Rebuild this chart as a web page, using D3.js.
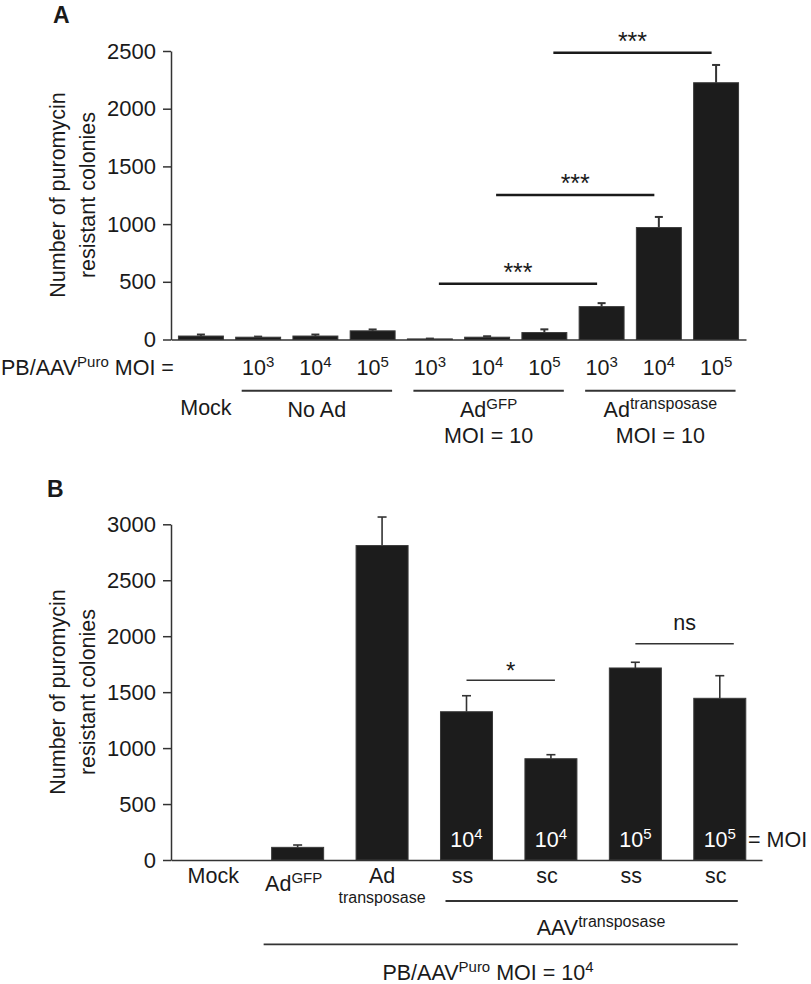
<!DOCTYPE html>
<html><head><meta charset="utf-8">
<script src="https://cdn.jsdelivr.net/npm/d3@7"></script>
<style>
html,body{margin:0;padding:0;background:#fff;}
svg{display:block;font-family:"Liberation Sans",Arial,Helvetica,sans-serif;}
</style></head><body>
<svg id="chart" width="811" height="984"></svg>
<script>
// ---------- Panel A data ----------
const categoriesA = ["Mock","No Ad 10^3","No Ad 10^4","No Ad 10^5","AdGFP 10^3","AdGFP 10^4","AdGFP 10^5","Adtransposase 10^3","Adtransposase 10^4","Adtransposase 10^5"];
const moiExponentA = [null,"3","4","5","3","4","5","3","4","5"];
const valuesA = [30,20,30,75,5,20,60,285,970,2225];
const errorsA = [13,5,13,12,3,8,28,30,92,154];
const ticksA = [0,500,1000,1500,2000,2500];
const groupsA = [
  {label:"No Ad", second:null, first:1, last:3},
  {label:"Ad^{GFP}", second:"MOI = 10", first:4, last:6},
  {label:"Ad^{transposase}", second:"MOI = 10", first:7, last:9}
];
const significanceA = [
  {from:4, to:7, level:483, label:"***"},
  {from:5, to:8, level:1252, label:"***"},
  {from:6, to:9, level:2485, label:"***"}
];

// ---------- Panel B data ----------
const categoriesB = ["Mock","AdGFP","Adtransposase","AAV ss 10^4","AAV sc 10^4","AAV ss 10^5","AAV sc 10^5"];
const labelsB = ["Mock","Ad^{GFP}","Ad","ss","sc","ss","sc"];
const moiExponentB = [null,null,null,"4","4","5","5"];
const valuesB = [0,113,2810,1325,905,1716,1445];
const errorsB = [0,21,255,143,36,51,202];
const ticksB = [0,500,1000,1500,2000,2500,3000];
const significanceB = [
  {from:3, to:4, level:1606, label:"*"},
  {from:5, to:6, level:1933, label:"ns"}
];

const svg = d3.select("#chart");
const INK = "#1a1a1a", LINE = "#333";
const FS = 21.5;

function rich(g, x, y, str, opts={}) {
  const t = g.append("text").attr("x", x).attr("y", y)
    .attr("text-anchor", opts.anchor || "middle")
    .attr("font-size", opts.size || FS)
    .attr("fill", opts.fill || INK);
  const re = /\^\{([^}]*)\}/g;
  let last = 0, m, shifted = false;
  const parts = [];
  while ((m = re.exec(str)) !== null) {
    if (m.index > last) parts.push({t: str.slice(last, m.index)});
    parts.push({t: m[1], sup: true});
    last = re.lastIndex;
  }
  if (last < str.length) parts.push({t: str.slice(last)});
  parts.forEach(p => {
    const ts = t.append("tspan").text(p.t);
    if (p.sup) { ts.attr("font-size", opts.supSize || 15).attr("dy", -8); shifted = true; }
    else if (shifted) { ts.attr("dy", 8); shifted = false; }
  });
  return t;
}

function yTitle(g, x1, x2, cy) {
  g.append("text").attr("transform", `translate(${x1},${cy}) rotate(-90)`)
    .attr("text-anchor","middle").attr("font-size",FS).attr("fill",INK).text("Number of puromycin");
  g.append("text").attr("transform", `translate(${x2},${cy}) rotate(-90)`)
    .attr("text-anchor","middle").attr("font-size",FS).attr("fill",INK).text("resistant colonies");
}

function yAxis(g, scale, ticks, x0) {
  const ax = g.append("g").attr("transform", `translate(${x0},0)`)
    .call(d3.axisLeft(scale).tickValues(ticks).tickSize(8).tickPadding(7).tickSizeOuter(0).tickFormat(d3.format("d")));
  ax.attr("font-size", 22).attr("font-family", null).style("color", INK);
  ax.selectAll("path,line").attr("stroke", LINE).attr("stroke-width", 1.5);
  return ax;
}

function xAxisLine(g, scale, yPos) {
  const ax = g.append("g").attr("transform", `translate(0,${yPos})`)
    .call(d3.axisBottom(scale).tickSize(0).tickSizeOuter(0).tickFormat(""));
  ax.select(".domain").attr("stroke", LINE).attr("stroke-width", 1.5);
}

// =================== PANEL A ===================
const gA = svg.append("g");
gA.append("text").attr("x",53).attr("y",23).attr("font-size",23).attr("font-weight","bold").attr("fill",INK).text("A");

const xA = d3.scaleBand().domain(categoriesA).range([171,746]).paddingInner(0.215).paddingOuter(0.13);
const yA = d3.scaleLinear().domain([0,2500]).range([339.5,51]);
const cA = i => xA(categoriesA[i]) + xA.bandwidth()/2;

yAxis(gA, yA, ticksA, 171);
yTitle(gA, 65, 95, 195);

// error bars A
gA.selectAll(".errA").data(valuesA).join("g").each(function(v,i){
  const g = d3.select(this), cx = cA(i), top = yA(v + errorsA[i]);
  g.append("line").attr("x1",cx).attr("x2",cx).attr("y1",yA(v)).attr("y2",top).attr("stroke",LINE).attr("stroke-width",2);
  g.append("line").attr("x1",cx-4).attr("x2",cx+4).attr("y1",top).attr("y2",top).attr("stroke",LINE).attr("stroke-width",2);
});
gA.selectAll(".barA").data(valuesA).join("rect")
  .attr("x",(d,i)=>xA(categoriesA[i])).attr("width",xA.bandwidth())
  .attr("y",d=>yA(d)).attr("height",d=>yA(0)-yA(d))
  .attr("fill","#1c1c1c").attr("stroke","#3a3a3a").attr("stroke-width",1);
xAxisLine(gA, xA, yA(0));

// significance A
significanceA.forEach(s=>{
  const x1 = cA(s.from) + xA.bandwidth()*0.2, x2 = cA(s.to) - xA.bandwidth()*0.1, yy = yA(s.level);
  gA.append("line").attr("x1",x1).attr("x2",x2).attr("y1",yy).attr("y2",yy).attr("stroke",INK).attr("stroke-width",2.5);
  gA.append("text").attr("x",(x1+x2)/2).attr("y",yy-3).attr("text-anchor","middle").attr("font-size",25).attr("fill",INK).text(s.label);
});

// x labels A
rich(gA, 1, 375, "PB/AAV^{Puro} MOI =", {anchor:"start"});
moiExponentA.forEach((e,i)=>{ if(e) rich(gA, cA(i), 375, "10^{"+e+"}"); });
rich(gA, cA(0)+5, 415, "Mock");
groupsA.forEach(gr=>{
  const x1 = xA(categoriesA[gr.first]) + 6, x2 = xA(categoriesA[gr.last]) + xA.bandwidth() - 3;
  gA.append("line").attr("x1",x1).attr("x2",x2).attr("y1",390.7).attr("y2",390.7).attr("stroke",LINE).attr("stroke-width",2);
  const mid = (x1+x2)/2;
  rich(gA, mid, 416.7, gr.label, {supSize: gr.label.includes("transposase") ? 16 : 15});
  if (gr.second) rich(gA, mid, 442.7, gr.second);
});

// =================== PANEL B ===================
const gB = svg.append("g");
gB.append("text").attr("x",47).attr("y",497).attr("font-size",23).attr("font-weight","bold").attr("fill",INK).text("B");

const xB = d3.scaleBand().domain(categoriesB).range([171,762]).paddingInner(0.384).paddingOuter(0.192);
const yB = d3.scaleLinear().domain([0,3000]).range([860,524.3]);
const cB = i => xB(categoriesB[i]) + xB.bandwidth()/2;

yAxis(gB, yB, ticksB, 171);
yTitle(gB, 65, 95, 692);

gB.selectAll(".errB").data(valuesB).join("g").each(function(v,i){
  if (!v) return;
  const g = d3.select(this), cx = cB(i), top = yB(v + errorsB[i]);
  g.append("line").attr("x1",cx).attr("x2",cx).attr("y1",yB(v)).attr("y2",top).attr("stroke",LINE).attr("stroke-width",1.6);
  g.append("line").attr("x1",cx-4.5).attr("x2",cx+4.5).attr("y1",top).attr("y2",top).attr("stroke",LINE).attr("stroke-width",1.6);
});
gB.selectAll(".barB").data(valuesB).join("rect")
  .attr("x",(d,i)=>xB(categoriesB[i])).attr("width",xB.bandwidth())
  .attr("y",d=>yB(d)).attr("height",d=>yB(0)-yB(d))
  .attr("fill","#1c1c1c").attr("stroke",d=>d? "#3a3a3a":"none").attr("stroke-width",1);
xAxisLine(gB, xB, yB(0));

// MOI inside bars
moiExponentB.forEach((e,i)=>{ if(e) rich(gB, cB(i), 846.7, "10^{"+e+"}", {fill:"#fff"}); });
rich(gB, 748, 847, "= MOI", {anchor:"start"});

// significance B
significanceB.forEach(s=>{
  const x1 = cB(s.from), x2 = cB(s.to) + (s.label==="ns" ? 14 : 4), yy = yB(s.level);
  gB.append("line").attr("x1",x1).attr("x2",x2).attr("y1",yy).attr("y2",yy).attr("stroke",LINE).attr("stroke-width",1.6);
  if (s.label === "ns") rich(gB, (x1+x2)/2, yy-13.7, s.label);
  else gB.append("text").attr("x",(x1+x2)/2).attr("y",yy-1).attr("text-anchor","middle").attr("font-size",24).attr("fill",INK).text(s.label);
});

// x labels B
labelsB.forEach((l,i)=>{
  const cx = cB(i) - (i>=3 ? 4 : 0) - (i===1 ? 4 : 0);
  rich(gB, cx, l.includes("^") ? 891 : 883, l);
});
rich(gB, cB(2), 903, "transposase", {size:16});
gB.append("line").attr("x1", xB(categoriesB[3]) + 5).attr("x2", xB(categoriesB[6]) + xB.bandwidth() - 8)
  .attr("y1",901).attr("y2",901).attr("stroke",LINE).attr("stroke-width",1.8);
rich(gB, 601, 935, "AAV^{transposase}", {supSize:16});
gB.append("line").attr("x1", xB(categoriesB[1]) - 8).attr("x2", xB(categoriesB[6]) + xB.bandwidth() - 8)
  .attr("y1",944.3).attr("y2",944.3).attr("stroke",LINE).attr("stroke-width",1.8);
rich(gB, 488, 980, "PB/AAV^{Puro} MOI = 10^{4}");
</script>
</body></html>
